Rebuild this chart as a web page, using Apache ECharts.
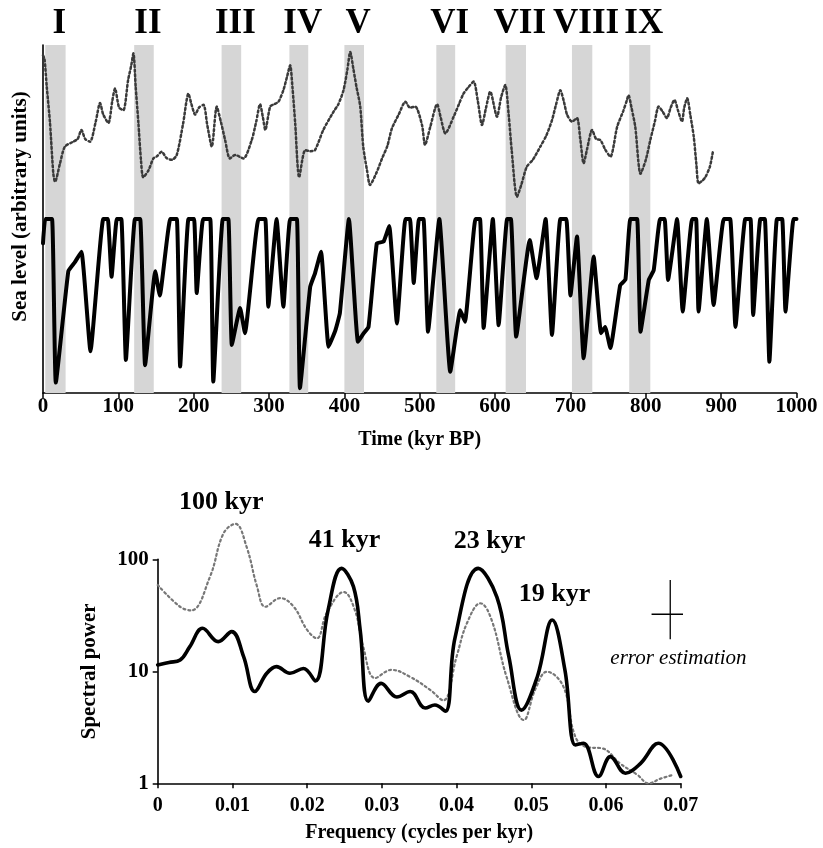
<!DOCTYPE html>
<html><head><meta charset="utf-8">
<script src="https://cdn.jsdelivr.net/npm/echarts@6/dist/echarts.min.js"></script>
<style>html,body{margin:0;padding:0;background:#fff}#c{width:823px;height:848px}</style>
</head><body><div id="c"></div>
<script>
// ---- Top panel: sea level vs time ----
const timeTicks = [0,100,200,300,400,500,600,700,800,900,1000];
const modelKyr = [0,3,12,17,33.6,42,51,63,80,86,91,98,104,110,122,129,135.5,149,155,169,177.6,182,193,200.5,204,212.5,222,226,238.6,246,250.6,261.6,268,286,295,299,310,319,328,337,341,354.6,361,369,379,388,394,406,418,425,432,443,452,459.5,469.7,481,487,492,499,505,511,526,540.5,553.8,560,574,580,584.8,597,604.7,616,621,628,646,655,667,675.5,686.6,694.5,700,708.7,717.5,730.8,740.6,746,753,766,773,779.5,788.5,793,804,810.5,819,825,829.6,841.5,849,861.5,866.8,870,881,890,903.5,912,919,932,939,942.5,952,958,964,974,981,985.4,996,1000];
const modelLevel = [43,50,50,3,35,37.5,40.6,12,50,50,33.4,50,50,9.5,50,50,8,35,28,50,50,7.6,50,50,28.7,50,50,3.3,50,50,13.8,24.4,17.2,50,50,24.8,50,24.8,50,50,1.4,30.5,34.4,40.6,13.3,18,23,50,14.7,17,19,43,43.5,48,20,50,50,31.6,50,50,17.6,50,6.1,23.8,20.5,50,50,18.7,50,19.5,50,50,16.2,44,33,50,16.7,50,50,28,45,10,39.2,17.2,19,12.9,31,32.6,50,50,17.6,32.5,35.3,50,50,32.5,50,23.4,50,50,23.4,50,25.3,50,50,19,50,50,22.4,50,50,9,50,50,23.4,50,50];
const isoKyr = [0,2,5,9.3,13.7,16,22.6,29,40,46,51,56,62.4,70,75.7,80,86.8,92,95.6,101,106.7,113,117,120,123,126.6,130,133,140,146.5,151,157.6,164,171,177.5,186,193,197,202,207,213,218,224,230.6,236,241.7,248,255,266,277,283,288,292,295,301.5,307,312.5,319,324,328,331,334.7,340,348,355,361,372,385.5,392,398.8,404,407.7,412,416,421,425,430,434,442,450,457,463,472,481,487,494,503,507,514,523,528,534,545,552,558,565,571.5,577,582.6,588,593.6,602.5,608,613.5,618,622,629,635,642,650,660,668,675.5,681,686.6,691,695.5,702,708.7,713,717.5,722,728.7,734,739.7,746,753,762,770,775,777,781,786,793,800,806,812,817,822,828,833,838,843,848,851,855,859,863.6,867,870,875,879,885,889];
const isoLevel = [97,96,88,77.6,63,60.7,66,70.8,72.2,73,75.6,73,72.2,78,83.3,80,77.6,84,87.5,82,81.3,90,94,97.6,88,77.6,67,62,64,67.4,68,69.3,67.5,67,68.4,77.5,86,83,80,82,82.8,77,70.8,82.3,78,72.7,67.4,68.4,67.4,72.7,78,83,79,75.6,82.3,83,83.7,87,91,94.2,88,77.5,62,69.8,69.5,69.8,75.6,80.8,83,87,93,98,93,88,82.3,70.8,64,59.8,63,67.4,71,76,80,83.7,82,82.3,77,71.3,76.5,83,79,74.6,79.4,83,86,88,89.5,84,77,82,86.6,79.4,85,88.5,80,69.8,56.4,60,65,67,70.8,74,78.4,83,87,84,80,78,79,73,66,70,75.6,73,72.7,70,67.9,76.5,81,84.2,85.6,82,76.5,63,67,72.7,78,82.3,81,79,82,84.2,81,78,82,84.7,80,73.7,66,60.2,61,62,65,69.3];
const bandLabels = ['I','II','III','IV','V','VI','VII','VIII','IX'];
const bandStart = [3,121,237,327,400,522,614,702,778];
const bandEnd = [30,147,263,352,426,547,641,729,806];

// ---- Bottom panel: spectra ----
const powerTicks = [1,10,100];
const freqModel = [0,0.0015,0.003,0.0043,0.006,0.0081,0.0099,0.0115,0.013,0.0146,0.0159,0.0177,0.0195,0.0211,0.0228,0.0246,0.0262,0.0271,0.0282,0.0299,0.032,0.0338,0.0358,0.0371,0.0385,0.0398,0.0429,0.0454,0.047,0.0487,0.0508,0.0528,0.0545,0.0559,0.057,0.059,0.0606,0.0626,0.0646,0.067,0.07];
const powerModel = [11.4,12,12.6,16.6,24.2,18.4,22.6,13.5,6.6,9.6,11,9.6,10.6,8.2,35,83,57,23.4,5.4,7.8,5.9,6.6,4.7,5.0,4.4,20,83,46,13.5,4.5,8.9,28.7,10.3,2.2,2.28,1.15,1.73,1.23,1.5,2.28,1.15];
const freqData = [0,0.003,0.0045,0.007,0.0088,0.0104,0.0119,0.0133,0.0144,0.0164,0.0182,0.02,0.0213,0.0226,0.0249,0.0264,0.0275,0.0291,0.0313,0.0338,0.0365,0.0382,0.04,0.0414,0.0432,0.0447,0.0467,0.049,0.0505,0.0521,0.0543,0.0559,0.0575,0.0595,0.0619,0.0642,0.0657,0.0673,0.069];
const powerData = [59,37.7,35,70,170,207,129,57,37.7,45,37.7,23.4,19.7,33,51,35,16.6,8.7,10.3,8.9,6.8,5.5,13.5,27,40.5,28.7,8.9,3.67,6.8,9.9,7.3,2.6,2.1,2.05,1.5,1.19,1.0,1.1,1.19];
const peakNames = ['100 kyr','41 kyr','23 kyr','19 kyr'];
const peakFreq = [0.0085,0.025,0.0444,0.0531];
const peakPower = [324,149,144,49];
const errFreq = [0.0661,0.0686,0.0712];   // low, centre, high
const errPower = [19.3,32.3,65.3];        // low, centre, high
const errNote = 'error estimation';
const errNoteAt = [0.0697,13];

const serif = '"Liberation Serif","DejaVu Serif",serif';
const zip = (a,b) => a.map((v,i)=>[v,b[i]]);

const chart = echarts.init(document.getElementById('c'), null, {renderer:'canvas'});
const axisLine = {show:true, lineStyle:{color:'#000', width:1.6}};
const option = {
  backgroundColor:'#fff',
  animation:false,
  grid:[
    {left:43, top:45, width:753.5, height:348},
    {left:157.7, top:559.3, width:523, height:224}
  ],
  xAxis:[
    {gridIndex:0, type:'value', min:timeTicks[0], max:timeTicks[timeTicks.length-1], interval:100,
     axisLine:axisLine, axisTick:{show:true, length:5, lineStyle:{color:'#000', width:1.5}},
     splitLine:{show:false},
     axisLabel:{margin:3, color:'#000', fontFamily:serif, fontWeight:'bold', fontSize:21,
       formatter:v=>String(v)},
     name:'Time (kyr BP)', nameLocation:'middle', nameGap:37,
     nameTextStyle:{color:'#000', fontFamily:serif, fontWeight:'bold', fontSize:20}},
    {gridIndex:1, type:'value', min:0, max:0.07, interval:0.01,
     axisLine:axisLine, axisTick:{show:true, length:5, lineStyle:{color:'#000', width:1.5}},
     splitLine:{show:false},
     axisLabel:{margin:13, color:'#000', fontFamily:serif, fontWeight:'bold', fontSize:20,
       formatter:v=>String(Number(v.toFixed(2)))},
     name:'Frequency (cycles per kyr)', nameLocation:'middle', nameGap:40,
     nameTextStyle:{color:'#000', fontFamily:serif, fontWeight:'bold', fontSize:20}}
  ],
  yAxis:[
    {gridIndex:0, type:'value', min:0, max:100,
     axisLine:axisLine, axisTick:{show:false}, axisLabel:{show:false}, splitLine:{show:false},
     name:'Sea level (arbitrary units)', nameLocation:'middle', nameGap:12,
     nameTextStyle:{color:'#000', fontFamily:serif, fontWeight:'bold', fontSize:21, padding:[0,0,0,25]}},
    {gridIndex:1, type:'log', logBase:10, min:powerTicks[0], max:powerTicks[powerTicks.length-1],
     axisLine:axisLine, axisTick:{show:true, length:5, lineStyle:{color:'#000', width:1.5}},
     minorTick:{show:false}, splitLine:{show:false},
     axisLabel:{margin:9, color:'#000', fontFamily:serif, fontWeight:'bold', fontSize:21},
     name:'Spectral power', nameLocation:'middle', nameGap:58,
     nameTextStyle:{color:'#000', fontFamily:serif, fontWeight:'bold', fontSize:21}}
  ],
  series:[
    {type:'line', xAxisIndex:0, yAxisIndex:0, data:[], z:1, silent:true,
     markArea:{silent:true, itemStyle:{color:'#d6d6d6'},
       label:{show:true, position:'top', distance:4, offset:[4,0], color:'#000',
              fontFamily:serif, fontWeight:'bold', fontSize:35},
       data: bandLabels.map((n,i)=>[{name:n, xAxis:bandStart[i], yAxis:0},{xAxis:bandEnd[i], yAxis:100}])}},
    {type:'line', xAxisIndex:0, yAxisIndex:0, z:3, symbol:'none', smooth:0.25,
     data:zip(isoKyr, isoLevel),
     lineStyle:{color:'#3a3a3a', width:2.5, type:[2,2.6], cap:'round'}},
    {type:'line', xAxisIndex:0, yAxisIndex:0, z:4, symbol:'none', smooth:0.12,
     data:zip(modelKyr, modelLevel),
     lineStyle:{color:'#000', width:4, join:'round', cap:'round'}},
    {type:'line', xAxisIndex:1, yAxisIndex:1, z:3, symbol:'none', smooth:0.4, clip:false,
     data:zip(freqData, powerData),
     lineStyle:{color:'#777', width:2.2, type:[2,3], cap:'round'}},
    {type:'line', xAxisIndex:1, yAxisIndex:1, z:4, symbol:'none', smooth:0.4, clip:false,
     data:zip(freqModel, powerModel),
     lineStyle:{color:'#000', width:3.6, join:'round', cap:'round'}},
    {type:'line', xAxisIndex:1, yAxisIndex:1, z:4, symbol:'none', clip:false,
     data:[[errFreq[1], errPower[0]],[errFreq[1], errPower[2]]],
     lineStyle:{color:'#000', width:1.3}},
    {type:'line', xAxisIndex:1, yAxisIndex:1, z:4, symbol:'none', clip:false,
     data:[[errFreq[0], errPower[1]],[errFreq[2], errPower[1]]],
     lineStyle:{color:'#000', width:1.3}},
    {type:'scatter', xAxisIndex:1, yAxisIndex:1, z:5, symbolSize:0, clip:false, silent:true,
     itemStyle:{opacity:1, color:'#000'},
     label:{show:true, position:'inside', formatter:p=>p.name, color:'#000', opacity:1,
            fontFamily:serif, fontWeight:'bold', fontSize:26},
     data: peakNames.map((n,i)=>({name:n, value:[peakFreq[i], peakPower[i]]})).concat([
       {name:errNote, value:errNoteAt, label:{fontStyle:'italic', fontWeight:'normal', fontSize:21}}
     ])}
  ]
};
chart.setOption(option);
</script></body></html>
